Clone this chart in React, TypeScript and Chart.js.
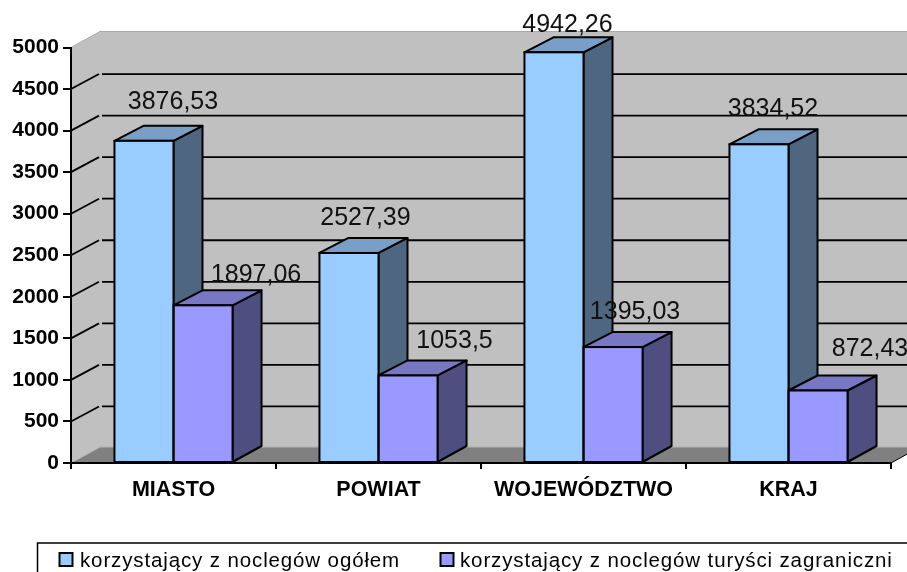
import React, { useEffect, useRef } from "react";
import { Chart, registerables } from "chart.js";

Chart.register(...registerables);

const categories = ["MIASTO", "POWIAT", "WOJEWÓDZTWO", "KRAJ"];
const ogolem = [3876.53, 2527.39, 4942.26, 3834.52];
const zagraniczni = [1897.06, 1053.5, 1395.03, 872.43];
const seriesNames = ["korzystający z noclegów ogółem", "korzystający z noclegów turyści zagraniczni"];
const yTickStep = 500;
const yMax = 5000;

const FRONT = ["#99CCFF", "#9999FF"];
const SIDE = ["#4F6680", "#4E4E80"];
const TOP = ["#7A9FC6", "#7777C4"];
const WALL = "#C0C0C0";
const FLOOR = "#808080";
const FONT = '"Liberation Sans", Arial, sans-serif';
const WALL_DX = 29;
const WALL_DY = 16;
const BAR_DX = 29;
const BAR_DY = 15;

// label placement relative to each bar's front face: [dx from centre, dy from top]
const labelShift = [
  [[29, -38.5], [16.5, -34.5], [13.5, -27], [14, -35.5]],
  [[53, -30.5], [46.5, -34.5], [22, -34.5], [52, -41.5]],
];
const legendLayout = { left: 37.5, top: 543, swatches: [59.5, 440.5], texts: [80, 460], baseline: 567 };

const poly = (ctx: CanvasRenderingContext2D, pts: number[][], fill: string | null, stroke: string | null, lw = 1) => {
  ctx.beginPath();
  pts.forEach(([x, y], i) => (i ? ctx.lineTo(x, y) : ctx.moveTo(x, y)));
  if (fill) {
    ctx.closePath();
    ctx.fillStyle = fill;
    ctx.fill();
  }
  if (stroke) {
    ctx.strokeStyle = stroke;
    ctx.lineWidth = lw;
    ctx.lineJoin = "round";
    ctx.stroke();
  }
};

const scene3d = {
  id: "scene3d",
  beforeDraw(chart: any) {
    const { ctx, chartArea: a, scales } = chart;
    const y = scales.y;
    ctx.save();
    // back wall, left wall, floor
    poly(ctx, [[a.left + WALL_DX, a.top - WALL_DY], [a.right + WALL_DX, a.top - WALL_DY], [a.right + WALL_DX, a.bottom - WALL_DY], [a.left + WALL_DX, a.bottom - WALL_DY]], WALL, null);
    poly(ctx, [[a.left, a.top], [a.left + WALL_DX, a.top - WALL_DY], [a.left + WALL_DX, a.bottom - WALL_DY], [a.left, a.bottom]], WALL, null);
    poly(ctx, [[a.left, a.bottom], [a.left + WALL_DX, a.bottom - WALL_DY], [a.right + WALL_DX, a.bottom - WALL_DY], [a.right, a.bottom]], FLOOR, null);
    // pale edges
    poly(ctx, [[a.left, a.top], [a.left + WALL_DX, a.top - WALL_DY], [a.right + WALL_DX, a.top - WALL_DY]], null, "#A8A8A8", 1);
    poly(ctx, [[a.left, a.bottom], [a.left + WALL_DX, a.bottom - WALL_DY], [a.right + WALL_DX, a.bottom - WALL_DY]], null, "#B4B4B4", 1);
    // gridlines
    y.ticks.forEach((t: any) => {
      if (t.value <= 0 || t.value >= yMax) return;
      const py = y.getPixelForValue(t.value);
      poly(ctx, [[a.left, py], [a.left + WALL_DX - 1, py - WALL_DY + 1]], null, "#000", 1.8);
      poly(ctx, [[a.left + WALL_DX + 2, py - WALL_DY + 1], [a.right + WALL_DX, py - WALL_DY + 1]], null, "#000", 1.8);
    });
    // right floor edge
    poly(ctx, [[a.right, a.bottom], [a.right + WALL_DX, a.bottom - WALL_DY]], null, "#000", 1);
    ctx.restore();
  },
  beforeDatasetsDraw(chart: any) {
    const { ctx } = chart;
    ctx.save();
    chart.data.datasets.forEach((_: any, i: number) => {
      chart.getDatasetMeta(i).data.forEach((el: any) => {
        const { x, y, base, width } = el.getProps(["x", "y", "base", "width"], true);
        const l = x - width / 2;
        const r = x + width / 2;
        poly(ctx, [[r, y], [r + BAR_DX, y - BAR_DY], [r + BAR_DX, base - BAR_DY - 1], [r, base]], SIDE[i], "#000", 2);
        poly(ctx, [[l, y], [l + BAR_DX, y - BAR_DY], [r + BAR_DX, y - BAR_DY], [r, y]], TOP[i], "#000", 2);
      });
    });
    ctx.restore();
  },
  afterDatasetsDraw(chart: any) {
    const { ctx } = chart;
    ctx.save();
    ctx.strokeStyle = "#000";
    ctx.lineWidth = 2;
    chart.data.datasets.forEach((_: any, i: number) => {
      chart.getDatasetMeta(i).data.forEach((el: any) => {
        const { x, y, base, width } = el.getProps(["x", "y", "base", "width"], true);
        ctx.strokeRect(x - width / 2, y, width, base - y);
      });
    });
    ctx.restore();
  },
  afterDraw(chart: any) {
    const { ctx } = chart;
    ctx.save();
    // value labels
    ctx.fillStyle = "#111";
    ctx.font = `25px ${FONT}`;
    ctx.textAlign = "center";
    ctx.textBaseline = "middle";
    chart.data.datasets.forEach((ds: any, i: number) => {
      chart.getDatasetMeta(i).data.forEach((el: any, j: number) => {
        const { x, y } = el.getProps(["x", "y"], true);
        const [dx, dy] = labelShift[i][j];
        ctx.fillText(String(ds.data[j]).replace(".", ","), x + dx, y + dy);
      });
    });
    // legend
    const L = legendLayout;
    ctx.strokeStyle = "#000";
    ctx.lineWidth = 1.5;
    ctx.strokeRect(L.left, L.top, chart.width + 20, 60);
    ctx.font = `20.5px ${FONT}`;
    (ctx as any).letterSpacing = "0.87px";
    ctx.textAlign = "left";
    ctx.textBaseline = "alphabetic";
    chart.data.datasets.forEach((ds: any, i: number) => {
      ctx.fillStyle = ds.backgroundColor;
      ctx.fillRect(L.swatches[i], 553, 13, 13);
      ctx.lineWidth = 2;
      ctx.strokeRect(L.swatches[i], 553, 13, 13);
      ctx.fillStyle = "#000";
      ctx.fillText(ds.label, L.texts[i], L.baseline);
    });
    (ctx as any).letterSpacing = "0px";
    ctx.restore();
  },
};

export default function App() {
  const ref = useRef<HTMLCanvasElement>(null);
  useEffect(() => {
    const chart = new Chart(ref.current as HTMLCanvasElement, {
      type: "bar",
      data: {
        labels: categories,
        datasets: [
          { label: seriesNames[0], data: ogolem, backgroundColor: FRONT[0], borderWidth: 0, categoryPercentage: 0.576, barPercentage: 1 },
          { label: seriesNames[1], data: zagraniczni, backgroundColor: FRONT[1], borderWidth: 0, categoryPercentage: 0.576, barPercentage: 1 },
        ],
      },
      options: {
        responsive: false,
        animation: false,
        layout: { padding: { top: 47.5, right: 16, bottom: 0, left: 0 } },
        plugins: { legend: { display: false }, title: { display: false }, tooltip: { enabled: false } },
        scales: {
          x: {
            afterFit: (s: any) => { s.height = 109; },
            grid: { drawOnChartArea: false, drawTicks: true, tickLength: 6, color: "#000", lineWidth: 2 },
            border: { color: "#000", width: 2 },
            ticks: { color: "#000", padding: 8, font: { family: FONT, size: 21.5, weight: "bold" }, maxRotation: 0, autoSkip: false },
          },
          y: {
            min: 0,
            max: yMax,
            afterFit: (s: any) => { s.width = 71; },
            grid: { drawOnChartArea: false, drawTicks: true, tickLength: 8, color: "#000", lineWidth: 2 },
            border: { color: "#000", width: 2 },
            ticks: { stepSize: yTickStep, color: "#000", padding: 4, font: { family: FONT, size: 21, weight: "bold" }, callback: (v: any) => String(v) },
          },
        },
      },
      plugins: [scene3d],
    } as any);
    return () => chart.destroy();
  }, []);
  return (
    <div style={{ position: "fixed", left: 0, top: 0, width: 907, height: 572, overflow: "hidden", background: "#fff" }}>
      <canvas ref={ref} width={907} height={572} style={{ display: "block" }} />
    </div>
  );
}
